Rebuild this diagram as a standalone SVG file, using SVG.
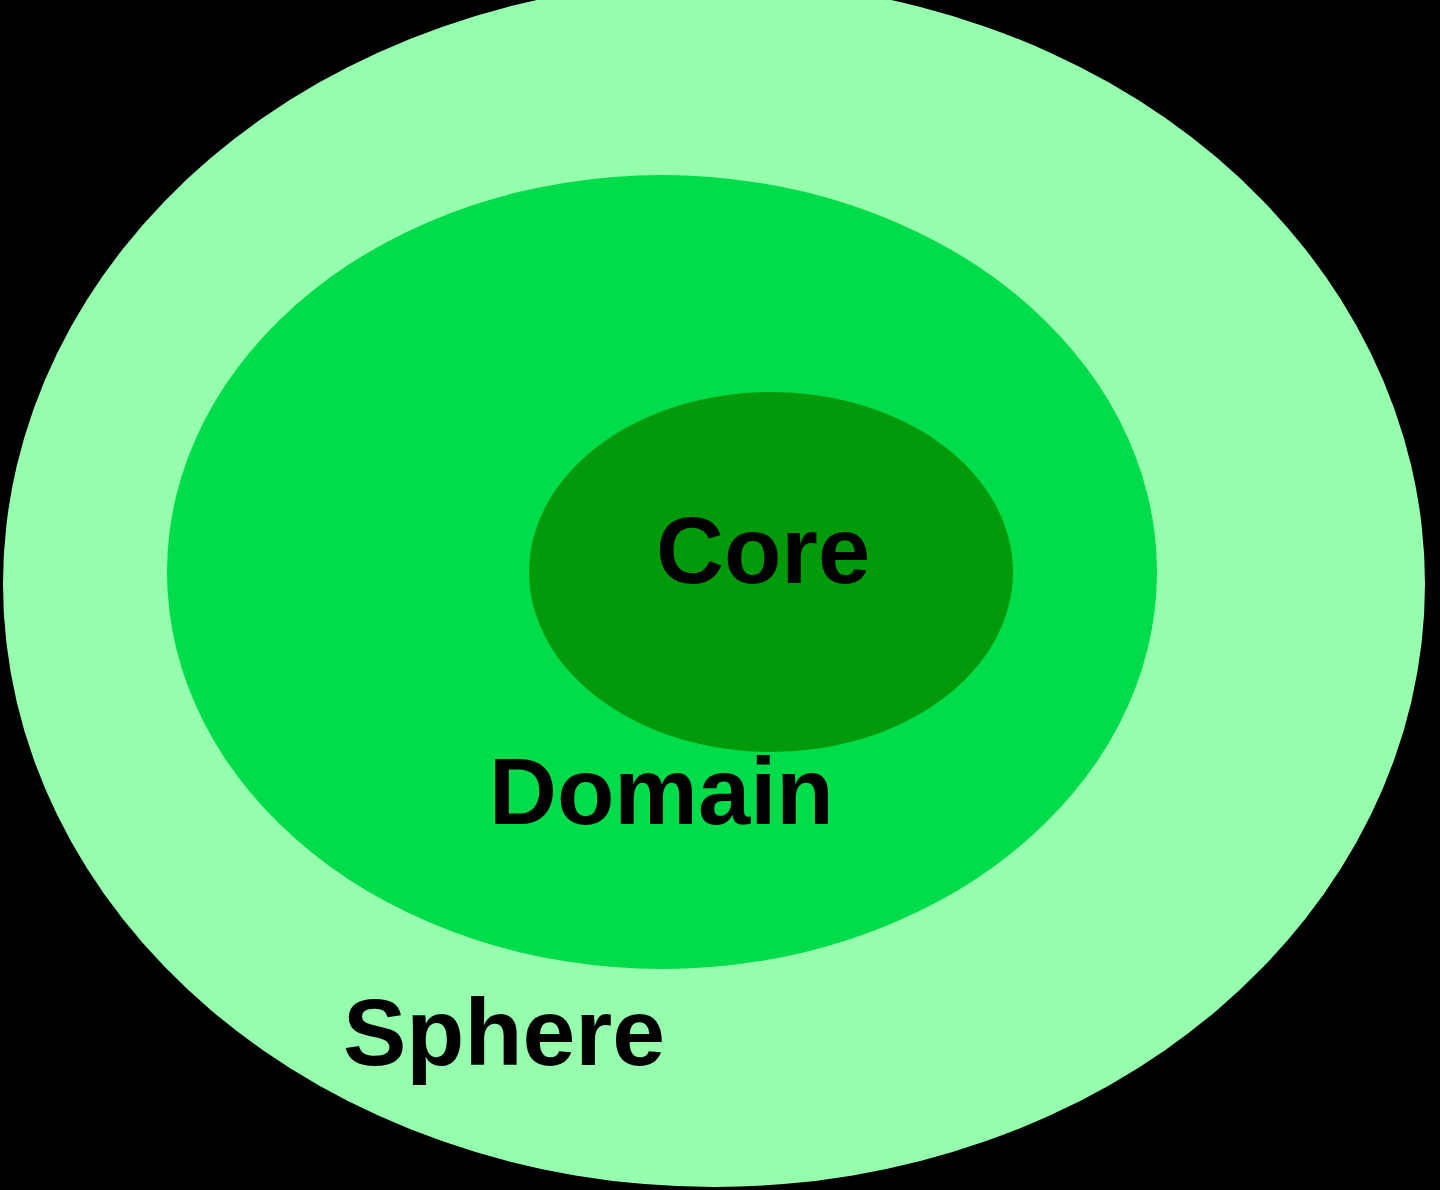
<svg xmlns="http://www.w3.org/2000/svg" width="1440" height="1190" viewBox="0 0 1440 1190">
<style>
.lbl{font-family:"Liberation Sans",Arial,sans-serif;font-weight:bold;font-size:94px;fill:#000}
</style>
<rect x="0" y="0" width="1440" height="1190" fill="#000"/>
<g id="sphere">
<ellipse cx="714" cy="584" rx="711" ry="603" fill="#95ffae"/>
<text class="lbl" x="343" y="1065" style="font-size:95px">Sphere</text>
</g>
<g id="domain">
<ellipse cx="662" cy="572" rx="495" ry="397" fill="#00dc4a"/>
<text class="lbl" x="489" y="824">Domain</text>
</g>
<g id="core">
<ellipse cx="771" cy="572" rx="242" ry="180" fill="#009a0a"/>
<text class="lbl" x="656" y="583">Core</text>
</g>
<g id="connectors"/>
</svg>
